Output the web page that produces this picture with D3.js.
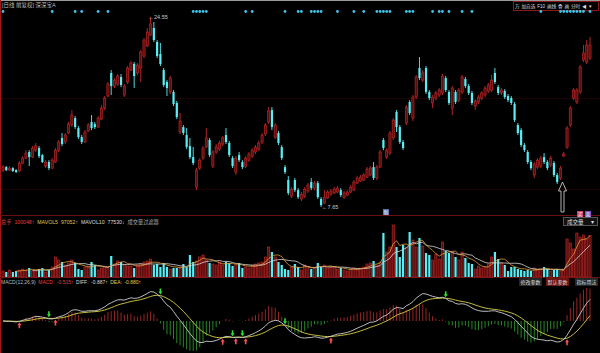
<!DOCTYPE html>
<html><head><meta charset="utf-8">
<script src="https://cdn.jsdelivr.net/npm/d3@7"></script>
<style>html,body{margin:0;padding:0;background:#000;overflow:hidden}svg{display:block}text{font-family:"Liberation Sans","Noto Sans CJK SC",sans-serif}</style>
</head><body><svg id="c" width="600" height="353"></svg>
<script>
const openP=[10.93,11.20,10.93,11.11,10.93,10.85,11.56,12.00,12.54,12.09,
12.71,12.89,12.27,11.29,11.65,11.11,11.65,12.71,13.79,13.43,
14.23,14.94,15.56,14.67,13.87,13.43,14.41,15.21,15.03,14.76,
15.47,16.45,17.52,19.57,18.41,18.59,19.21,17.61,18.77,19.83,
20.37,19.57,20.01,21.08,21.97,22.95,23.57,22.33,21.26,19.83,
18.77,17.88,17.88,16.90,14.32,14.76,14.05,13.07,12.09,9.42,
11.11,12.00,12.98,13.61,11.29,12.54,12.80,13.25,14.05,13.34,
12.00,10.76,12.27,11.65,11.29,11.82,12.18,12.54,12.80,13.43,
14.14,15.21,16.27,13.87,14.23,12.98,11.20,10.05,8.62,10.05,
9.15,8.36,8.62,9.07,9.87,9.33,9.78,8.36,8.00,8.45,
8.80,8.89,8.98,9.15,8.53,8.71,8.98,9.15,9.78,9.96,
10.05,10.31,10.49,11.20,10.22,11.20,13.61,12.09,12.45,13.79,
16.10,14.76,13.43,15.12,16.99,15.56,17.43,20.01,18.94,20.01,
17.88,16.90,17.34,17.61,17.79,19.12,17.88,16.45,17.88,17.16,
17.88,19.03,18.41,17.79,16.63,16.99,17.34,17.61,17.97,18.05,
19.57,18.32,17.79,17.97,17.52,17.34,16.81,14.94,14.49,13.16,
12.54,11.65,10.49,11.20,11.29,12.09,11.65,11.38,11.56,10.49,
10.22,12.18,12.98,14.94,17.34,16.99,17.88,20.72,20.55,20.90];
const closeP=[11.20,10.93,11.11,10.85,10.76,11.56,12.00,12.45,12.09,12.89,
13.07,12.18,11.65,11.65,11.11,11.82,12.71,13.43,13.25,14.05,
15.03,15.83,14.76,13.87,13.43,14.32,14.94,14.67,14.76,15.56,
16.45,17.34,18.59,18.41,18.94,19.30,18.50,18.41,20.01,20.46,
19.30,20.28,21.44,22.50,23.21,23.93,22.50,21.08,20.37,18.50,
18.23,19.12,16.81,15.65,15.30,14.23,12.98,12.09,11.56,10.93,
11.82,12.89,13.79,12.27,12.54,12.98,13.34,13.79,13.43,12.27,
11.29,12.00,11.82,11.20,12.00,12.36,12.71,12.98,13.34,14.05,
14.94,16.19,14.76,14.94,13.34,12.00,10.76,8.89,9.24,9.15,
8.53,8.80,9.24,9.60,9.33,9.78,8.53,7.82,8.53,8.98,
9.07,9.24,9.33,8.71,8.89,8.98,9.42,9.87,10.22,10.31,
10.49,11.02,11.11,10.22,11.20,12.54,12.89,12.71,14.23,15.38,
14.76,13.43,12.89,16.54,16.01,17.43,19.21,19.12,19.57,17.88,
17.34,17.43,17.79,18.05,19.30,18.05,16.90,18.23,16.99,18.05,
19.21,18.41,17.79,16.90,17.08,17.43,17.79,18.23,18.50,18.94,
18.77,17.79,18.05,17.43,17.16,16.90,15.38,14.23,13.16,12.71,
11.65,11.11,11.47,11.82,12.00,11.65,11.11,12.00,10.49,9.87,
11.11,12.36,14.67,16.45,18.05,18.05,20.10,21.35,22.06,22.06];
const highP=[11.38,11.29,11.29,11.20,11.02,11.74,12.18,12.71,12.71,13.07,
13.34,13.07,12.36,11.82,11.82,12.00,12.89,13.61,14.23,14.23,
15.21,16.27,15.74,14.85,14.05,14.49,15.12,15.83,15.21,15.74,
16.72,17.52,18.77,19.83,19.12,19.48,19.48,18.59,20.19,20.64,
20.55,20.46,21.61,22.68,23.57,24.55,24.10,22.50,22.24,20.01,
18.94,19.30,18.05,17.08,16.01,14.94,14.67,13.79,12.98,11.11,
12.00,13.07,14.67,13.79,12.71,13.25,13.52,13.96,14.67,13.52,
12.18,12.18,12.54,11.82,12.18,12.54,12.89,13.16,13.52,14.23,
15.12,16.54,16.54,15.12,14.41,13.16,11.38,10.40,9.42,10.22,
9.33,8.98,9.42,9.78,10.22,9.96,9.96,8.53,9.15,9.15,
9.24,9.42,9.51,9.33,9.07,9.15,9.60,10.05,10.40,10.49,
10.67,11.20,11.29,11.65,11.38,12.71,13.79,12.89,14.41,15.56,
16.27,14.94,13.61,16.72,17.16,17.61,19.39,20.99,19.83,20.19,
18.05,17.61,17.97,18.23,19.48,19.30,18.05,18.41,18.05,18.23,
19.39,19.21,18.59,17.97,17.25,17.61,17.97,18.41,18.68,19.39,
20.01,18.50,18.23,18.14,17.70,17.52,16.99,15.12,14.67,13.34,
12.71,11.82,11.65,12.00,12.18,12.45,11.82,12.18,11.74,10.67,
11.29,12.54,14.85,16.63,18.23,18.23,20.28,22.06,22.50,22.77];
const lowP=[10.76,10.85,10.85,10.76,10.67,10.76,11.47,11.91,11.29,12.00,
12.54,12.00,11.56,11.11,10.93,11.02,11.56,12.54,13.07,13.25,
14.14,14.76,14.59,13.70,13.25,13.34,14.32,14.49,14.59,14.67,
15.38,16.27,17.43,17.61,18.23,18.41,18.32,17.43,18.59,19.75,
18.23,19.39,18.77,20.90,21.88,22.86,22.33,20.90,20.19,18.32,
17.52,17.70,16.63,15.47,14.14,14.05,12.80,11.91,11.38,9.15,
10.93,11.82,12.89,12.09,11.11,12.36,12.63,13.07,13.25,12.09,
11.11,10.49,11.65,11.02,11.11,11.65,12.00,12.36,12.63,13.25,
13.96,15.03,14.49,13.70,13.16,11.82,10.58,8.71,8.45,8.98,
8.36,8.18,8.45,8.89,9.15,9.15,8.36,7.65,7.91,8.36,
8.62,8.80,8.89,8.53,8.36,8.62,8.89,9.07,9.69,9.87,
9.96,10.22,10.40,10.05,10.05,11.11,12.71,11.91,12.27,13.61,
14.32,13.25,12.71,14.94,15.83,15.30,17.25,18.94,18.77,17.70,
17.16,16.45,17.16,17.43,17.61,17.88,16.72,15.83,16.81,16.99,
17.70,18.23,17.61,16.72,16.27,16.81,17.16,17.43,17.79,17.88,
18.59,17.61,17.61,17.25,16.99,16.72,15.21,14.05,12.98,12.54,
11.47,10.93,10.22,11.02,11.11,11.47,10.93,11.20,10.31,9.69,
10.05,12.09,12.80,14.76,17.16,16.81,17.70,20.55,20.37,20.72];
const volume=[14400,12000,16800,12000,14400,16800,19200,16800,21600,14400,
14400,19200,21600,12000,16800,24000,48000,40800,36000,28800,
33600,40800,33600,19200,16800,24000,26400,36000,28800,16800,
21600,24000,24000,50400,31200,38400,36000,28800,26400,26400,
21600,28800,31200,36000,38400,43200,28800,31200,24000,33600,
24000,19200,21600,21600,24000,31200,24000,52800,36000,38400,
48000,52800,40800,33600,31200,28800,36000,28800,36000,33600,
26400,28800,33600,21600,24000,21600,28800,31200,33600,36000,
48000,72000,60000,48000,36000,28800,19200,16800,24000,31200,
24000,16800,28800,24000,19200,21600,33600,24000,28800,21600,
24000,24000,19200,21600,16800,14400,19200,21600,19200,21600,
24000,31200,33600,38400,28800,36000,105600,60000,72000,124800,
72000,48000,76800,72000,108000,88800,72000,93600,74400,57600,
52800,40800,55200,43200,84000,62400,57600,60000,48000,40800,
60000,45600,33600,31200,19200,26400,21600,24000,31200,48000,
60000,43200,33600,28800,14400,24000,24000,19200,16800,14400,
16800,14400,21600,19200,19200,24000,19200,14400,16800,19200,
14400,16800,91200,81600,67200,105600,96000,100800,91200,100048];
const signalIdx=[0,15,22,24,29,32,58,59,60,61,62,74,76,86,90,91,94,95,96,97,102,107,110,114,115,116,117,118,123,124,125,131,133,134,136,140,143,164,170,171,172,173,174,175,176,177,179];
const titleText="[日线 前复权]  深深宝A";
const toolbarItems=["万","加自选","F10","画线","叠","画","分时","◀","▾"];
const volLegend=[["总手","#e04040"],["100048↑","#e04040"],["MAVOL5","#e0c050"],["97052↑","#e0c050"],["MAVOL10","#dddddd"],["77530↓","#dddddd"],["成交量过滤器","#aaaaaa"]];
const macdLegend=[["MACD(12,26,9)","#bbbbbb"],["MACD:","#e04040"],["-0.515↑","#e04040"],["DIFF:","#dddddd"],["-0.887↑","#dddddd"],["DEA:","#e0d050"],["-0.880↑","#e0d050"]];
const macdButtons=["修改参数","默认参数","指标用法"];
const highLabel="←24.55", lowLabel="←7.65";

const W=600,H=353;
const svg=d3.select('#c');
svg.append('rect').attr('width',W).attr('height',H).attr('fill','#000');
const n=closeP.length;
const idx=d3.range(n);
const x=d3.scaleLinear().domain([0,n-1]).range([3,590]);
const yP=d3.scaleLinear().domain([d3.min(lowP),d3.max(highP)]).range([207,17]);
const yV=d3.scaleLinear().domain([0,d3.max(volume)]).range([277,225]);
const bw=2.2;
const RED="#c42a2a", REDF="#5e0c0c", CY="#58eef4";

function flow(items,x0,y,size,gap,maxX){
  const g=svg.append('g');
  let s=size, cx;
  for(let pass=0;pass<6;pass++){
    g.selectAll('*').remove();
    cx=x0;
    items.forEach(d=>{
      const t=g.append('text').attr('x',cx).attr('y',y).attr('font-size',s).attr('fill',d[1]).text(d[0]);
      cx+=t.node().getComputedTextLength()+gap;
    });
    if(!maxX||cx-gap<=maxX) break;
    s*=0.92; gap*=0.85;
  }
}

// frame lines
svg.append('line').attr('x1',0).attr('x2',W).attr('y1',0.5).attr('y2',0.5).attr('stroke','#9a9a9a');
svg.append('line').attr('x1',0.5).attr('x2',0.5).attr('y1',0).attr('y2',H).attr('stroke','#a01515');
[98.5,189.5].forEach(g=>svg.append('line').attr('x1',1).attr('x2',W).attr('y1',g).attr('y2',g).attr('stroke','#1c0404'));
[215.5,277.5].forEach(g=>svg.append('line').attr('x1',0).attr('x2',W).attr('y1',g).attr('y2',g).attr('stroke','#6a1010'));

// title
svg.append('text').attr('x',2).attr('y',7).attr('font-size',5.5).attr('fill','#bbbbbb').text(titleText);
// toolbar
svg.append('rect').attr('x',513.5).attr('y',1.5).attr('width',85).attr('height',9).attr('fill','#000').attr('stroke','#8a1a1a');
flow(toolbarItems.map(t=>[t,'#dddddd']),515,8.3,5,2.2,597);

// signal dots
svg.append('g').selectAll('circle').data(signalIdx).join('circle')
 .attr('cx',d=>x(d)).attr('cy',11.5).attr('r',1.4).attr('fill','#3fc3e8');

// candles
const cg=svg.append('g');
idx.forEach(i=>{
  const up=closeP[i]>=openP[i];
  const cx=x(i);
  cg.append('line').attr('x1',cx).attr('x2',cx).attr('y1',yP(highP[i])).attr('y2',yP(lowP[i]))
    .attr('stroke',up?RED:CY).attr('stroke-width',0.9);
  const y0=yP(Math.max(openP[i],closeP[i])), y1=yP(Math.min(openP[i],closeP[i]));
  cg.append('rect').attr('x',cx-bw/2).attr('y',y0).attr('width',bw).attr('height',Math.max(0.8,y1-y0))
    .attr('fill',up?REDF:CY).attr('stroke',up?RED:'none').attr('stroke-width',0.6);
});
const iH=highP.indexOf(d3.max(highP)), iL=lowP.indexOf(d3.min(lowP));
svg.append('text').attr('x',x(iH)-2).attr('y',yP(highP[iH])+2).attr('font-size',5.5).attr('fill','#cccccc').text(highLabel);
svg.append('text').attr('x',x(iL)+1).attr('y',yP(lowP[iL])+2).attr('font-size',5.5).attr('fill','#cccccc').text(lowLabel);

// hollow up arrow under last low
const ax=562.5;
svg.append('path').attr('d',`M${ax},182 L${ax+4},191 L${ax+1.5},191 L${ax+1.5},212 L${ax-1.5},212 L${ax-1.5},191 L${ax-4},191 Z`)
 .attr('fill','none').attr('stroke','#dddddd').attr('stroke-width',0.8);
// small icons
svg.append('rect').attr('x',383).attr('y',209).attr('width',6).attr('height',6).attr('fill','#5a70b0');
svg.append('text').attr('x',383.5).attr('y',214).attr('font-size',5).attr('fill','#fff').text('新');
svg.append('rect').attr('x',577).attr('y',211).attr('width',6).attr('height',6).attr('fill','#d04070');
svg.append('text').attr('x',577.5).attr('y',216).attr('font-size',5).attr('fill','#fff').text('买');
svg.append('rect').attr('x',585).attr('y',211).attr('width',6).attr('height',6).attr('fill','#7a50c8');
svg.append('text').attr('x',585.5).attr('y',216).attr('font-size',5).attr('fill','#fff').text('卖');

// volume
const vg=svg.append('g');
idx.forEach(i=>{
  const up=closeP[i]>=openP[i];
  vg.append('rect').attr('x',x(i)-bw/2).attr('y',yV(volume[i])).attr('width',bw).attr('height',yV(0)-yV(volume[i]))
   .attr('fill',up?REDF:CY).attr('stroke',up?RED:'none').attr('stroke-width',0.6);
});
function sma(arr,k){return arr.map((v,i)=>i<k-1?null:d3.mean(arr.slice(i-k+1,i+1)));}
const ma5=sma(volume,5), ma10=sma(volume,10);
const vLine=d3.line().defined(d=>d[1]!=null).x(d=>x(d[0])).y(d=>yV(d[1]));
svg.append('path').attr('d',vLine(ma10.map((v,i)=>[i,v]))).attr('fill','none').attr('stroke','#d8d8d8').attr('stroke-width',0.8);
svg.append('path').attr('d',vLine(ma5.map((v,i)=>[i,v]))).attr('fill','none').attr('stroke','#e0a040').attr('stroke-width',0.8);
flow(volLegend,1,223.5,5.2,3);
svg.append('rect').attr('x',563.5).attr('y',217.5).attr('width',34).attr('height',8).attr('fill','#111').attr('stroke','#555');
svg.append('text').attr('x',567).attr('y',223.8).attr('font-size',5.5).attr('fill','#dddddd').text('成交量');
svg.append('text').attr('x',591).attr('y',223.8).attr('font-size',5.5).attr('fill','#dddddd').text('▾');

// MACD
function ema(arr,k){const a=2/(k+1);const out=[];arr.forEach((v,i)=>out.push(i===0?v:a*v+(1-a)*out[i-1]));return out;}
const e12=ema(closeP,12), e26=ema(closeP,26);
const diff=e12.map((v,i)=>v-e26[i]);
const dea=ema(diff,9);
const macd=diff.map((v,i)=>2*(v-dea[i]));
const all=diff.concat(dea,macd);
const yM=d3.scaleLinear().domain([d3.min(all),d3.max(all)]).range([351,288]);
const mg=svg.append('g');
idx.forEach(i=>{
  mg.append('line').attr('x1',x(i)).attr('x2',x(i)).attr('y1',yM(0)).attr('y2',yM(macd[i]))
   .attr('stroke',macd[i]>=0?'#a82a2a':'#2a962a').attr('stroke-width',0.9);
});
const mLine=d3.line().x((d,i)=>x(i)).y(d=>yM(d));
svg.append('path').attr('d',mLine(dea)).attr('fill','none').attr('stroke','#d8d040').attr('stroke-width',0.9);
svg.append('path').attr('d',mLine(diff)).attr('fill','none').attr('stroke','#d0d0d0').attr('stroke-width',0.9);
for(let i=1;i<n;i++){
  const s0=diff[i-1]-dea[i-1], s1=diff[i]-dea[i];
  const cx=x(i), cy=yM(dea[i]);
  if(s0<0&&s1>=0){
    svg.append('path').attr('d',`M${cx},${cy+1} L${cx+2},${cy+4} L${cx+0.8},${cy+4} L${cx+0.8},${cy+7} L${cx-0.8},${cy+7} L${cx-0.8},${cy+4} L${cx-2},${cy+4} Z`).attr('fill','#ff5050');
  } else if(s0>0&&s1<=0){
    svg.append('path').attr('d',`M${cx},${cy-1} L${cx+2},${cy-4} L${cx+0.8},${cy-4} L${cx+0.8},${cy-7} L${cx-0.8},${cy-7} L${cx-0.8},${cy-4} L${cx-2},${cy-4} Z`).attr('fill','#30e030');
  }
}
flow(macdLegend,1,283.5,5,2.5);
const bX=[519,546,575];
macdButtons.forEach((t,i)=>{
  svg.append('rect').attr('x',bX[i]).attr('y',278).attr('width',23).attr('height',8).attr('fill',i===1?'#6a1414':'#262626');
  svg.append('text').attr('x',bX[i]+1.5).attr('y',284.3).attr('font-size',5).attr('fill','#dddddd').text(t);
});
</script></body></html>
